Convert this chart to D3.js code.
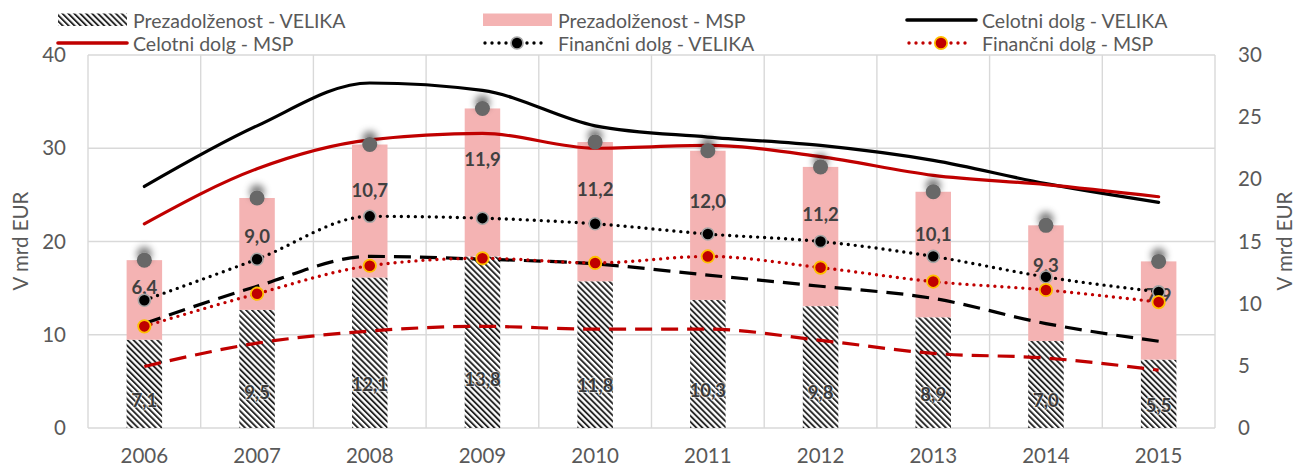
<!DOCTYPE html>
<html>
<head>
<meta charset="utf-8">
<script src="https://cdn.jsdelivr.net/npm/d3@7/dist/d3.min.js"></script>
<style>
  html, body { margin: 0; padding: 0; background: #fff; }
  svg { display: block; font-family: Lato, "Open Sans", sans-serif; }
</style>
</head>
<body>
<svg id="chart" width="1297" height="467"></svg>
<script>
// Years on the category axis
const years = ["2006","2007","2008","2009","2010","2011","2012","2013","2014","2015"];

// Over-indebtedness (right axis, stacked bars), bn EUR
const prezadolzenostVelika = [7.1, 9.5, 12.1, 13.8, 11.8, 10.3, 9.8, 8.9, 7.0, 5.5];
const prezadolzenostMsp    = [6.4, 9.0, 10.7, 11.9, 11.2, 12.0, 11.2, 10.1, 9.3, 7.9];

// Debt series (left axis), bn EUR
const celotniDolgVelika  = [25.9, 32.4, 37.0, 36.2, 32.4, 31.2, 30.3, 28.7, 26.2, 24.2];
const celotniDolgMsp     = [21.9, 27.8, 30.9, 31.6, 30.0, 30.3, 29.1, 27.1, 26.1, 24.8];
const financniDolgVelika = [13.7, 18.1, 22.7, 22.5, 21.9, 20.8, 20.0, 18.4, 16.2, 14.6];
const financniDolgMsp    = [10.9, 14.4, 17.4, 18.2, 17.7, 18.4, 17.2, 15.7, 14.8, 13.5];
const dolgDashedVelika   = [11.2, 15.2, 18.4, 18.1, 17.6, 16.4, 15.2, 13.9, 11.2, 9.3];
const dolgDashedMsp      = [6.6, 9.1, 10.4, 10.9, 10.6, 10.6, 9.4, 8.0, 7.5, 6.2];

// Axis ticks
const leftTicks  = [0, 10, 20, 30, 40];
const rightTicks = [0, 5, 10, 15, 20, 25, 30];
const axisTitle  = "V mrd EUR";

// Legend entries (two rows of three)
const legendLabels = [
  "Prezadolženost - VELIKA", "Prezadolženost - MSP", "Celotni dolg - VELIKA",
  "Celotni dolg - MSP", "Finančni dolg - VELIKA", "Finančni dolg - MSP"
];

const totals = prezadolzenostVelika.map((v, i) => +(v + prezadolzenostMsp[i]).toFixed(1));

const svg = d3.select("#chart");
const W = 1297, H = 467;
const plot = { left: 88, right: 1215, top: 55, bottom: 428 };

const RED = "#C00000", PINK = "#F4B3B3", GRID = "#D9D9D9", TXT = "#595959", LBL = "#404040";

svg.append("rect").attr("width", W).attr("height", H).attr("fill", "#fff");

const defs = svg.append("defs");
const pat = defs.append("pattern")
  .attr("id", "hatch").attr("patternUnits", "userSpaceOnUse")
  .attr("width", 4.2).attr("height", 4.2)
  .attr("patternTransform", "rotate(-45)");
pat.append("rect").attr("width", 4.2).attr("height", 4.2).attr("fill", "#fff");
pat.append("rect").attr("width", 1.9).attr("height", 4.2).attr("fill", "#262626");

const glow = defs.append("filter").attr("id", "halo")
  .attr("x", "-100%").attr("y", "-150%").attr("width", "300%").attr("height", "300%");
glow.append("feGaussianBlur").attr("in", "SourceAlpha").attr("stdDeviation", 3.5).attr("result", "b");
glow.append("feOffset").attr("in", "b").attr("dy", -6).attr("result", "o");
glow.append("feFlood").attr("flood-color", "#000").attr("flood-opacity", 0.5);
glow.append("feComposite").attr("in2", "o").attr("operator", "in").attr("result", "s");
const gm = glow.append("feMerge");
gm.append("feMergeNode").attr("in", "s");
gm.append("feMergeNode").attr("in", "SourceGraphic");

const x = d3.scaleBand().domain(years).range([plot.left, plot.right]).padding(0);
const yL = d3.scaleLinear().domain([0, 40]).range([plot.bottom, plot.top]);
const yR = d3.scaleLinear().domain([0, 30]).range([plot.bottom, plot.top]);
const cx = d => x(d) + x.bandwidth() / 2;
const barW = x.bandwidth() * 0.315;

// Grid
const grid = svg.append("g").attr("stroke", GRID).attr("stroke-width", 1.4);
grid.selectAll("line.h").data(leftTicks).join("line")
  .attr("x1", plot.left).attr("x2", plot.right)
  .attr("y1", d => yL(d)).attr("y2", d => yL(d));
const bounds = years.map(d => x(d)).concat([plot.right]);
grid.selectAll("line.v").data(bounds).join("line")
  .attr("x1", d => d).attr("x2", d => d)
  .attr("y1", plot.top).attr("y2", plot.bottom);

// Axes (text only)
const axL = svg.append("g").attr("transform", `translate(${plot.left - 22},0)`)
  .call(d3.axisLeft(yL).tickValues(leftTicks).tickSize(0).tickPadding(0));
const axR = svg.append("g").attr("transform", `translate(${plot.right + 23},0)`)
  .call(d3.axisRight(yR).tickValues(rightTicks).tickSize(0).tickPadding(0));
const axB = svg.append("g").attr("transform", `translate(0,${plot.bottom})`)
  .call(d3.axisBottom(x).tickSize(0).tickPadding(0));
[axL, axR, axB].forEach(a => {
  a.select(".domain").remove();
  a.selectAll("text").attr("fill", TXT).style("font-size", "20.5px").style("font-family", "Lato");
});
axB.selectAll("text").attr("dy", null).attr("y", 35).attr("dominant-baseline", "alphabetic");

svg.append("text").attr("transform", "translate(28,241) rotate(-90)")
  .attr("text-anchor", "middle").attr("fill", TXT).style("font-size", "20.5px").text(axisTitle);
svg.append("text").attr("transform", "translate(1292,241) rotate(-90)")
  .attr("text-anchor", "middle").attr("fill", TXT).style("font-size", "20.5px").text(axisTitle);

// Stacked bars
svg.append("g").selectAll("rect").data(years).join("rect")
  .attr("x", d => cx(d) - barW / 2).attr("width", barW)
  .attr("y", (d, i) => yR(prezadolzenostVelika[i]))
  .attr("height", (d, i) => yR(0) - yR(prezadolzenostVelika[i]))
  .attr("fill", "url(#hatch)");
svg.append("g").selectAll("rect").data(years).join("rect")
  .attr("x", d => cx(d) - barW / 2).attr("width", barW)
  .attr("y", (d, i) => yR(totals[i]))
  .attr("height", (d, i) => yR(prezadolzenostVelika[i]) - yR(totals[i]))
  .attr("fill", PINK);

// Bar value labels
const fmt = v => v.toFixed(1).replace(".", ",");
const lblStyle = s => s.attr("text-anchor", "middle").attr("dominant-baseline", "central")
  .attr("fill", LBL).style("font-size", "18.5px").style("font-weight", "bold");
svg.append("g").selectAll("text").data(years).join("text")
  .attr("x", d => cx(d))
  .attr("y", (d, i) => yR(prezadolzenostVelika[i] * 0.25) - 6)
  .call(lblStyle)
  .attr("fill", "#3a3a3a")
  .attr("stroke", "rgba(255,255,255,0.55)").attr("stroke-width", 2.2)
  .style("paint-order", "stroke")
  .text((d, i) => fmt(prezadolzenostVelika[i]));
svg.append("g").selectAll("text").data(years).join("text")
  .attr("x", d => cx(d))
  .attr("y", (d, i) => yR(totals[i]) + 0.34 * (yR(prezadolzenostVelika[i]) - yR(totals[i])))
  .call(lblStyle).text((d, i) => fmt(prezadolzenostMsp[i]));

// Lines
const curve = d3.curveMonotoneX;
const lineL = d3.line().x((d, i) => cx(years[i])).y(d => yL(d)).curve(curve);
const drawLine = (vals, color, dash, cap) => svg.append("path").datum(vals)
  .attr("d", lineL).attr("fill", "none").attr("stroke", color)
  .attr("stroke-width", dash === "dot" ? 3.4 : 3.2)
  .attr("stroke-dasharray", dash === "dot" ? "0,7" : dash)
  .attr("stroke-linecap", dash === "dot" ? "round" : (cap || "butt"));

drawLine(dolgDashedMsp, RED, "17,9");
drawLine(dolgDashedVelika, "#000", "17,9");
drawLine(celotniDolgVelika, "#000", null, "round");
drawLine(celotniDolgMsp, RED, null, "round");
drawLine(financniDolgVelika, "#000", "dot");
drawLine(financniDolgMsp, RED, "dot");

// Totals markers
svg.append("g").selectAll("circle").data(totals).join("circle")
  .attr("cx", (d, i) => cx(years[i])).attr("cy", d => yR(d)).attr("r", 7.5)
  .attr("fill", "#676767").attr("filter", "url(#halo)");

// Series markers
svg.append("g").selectAll("circle").data(financniDolgVelika).join("circle")
  .attr("cx", (d, i) => cx(years[i])).attr("cy", d => yL(d)).attr("r", 6)
  .attr("fill", "#000").attr("stroke", "#A6A6A6").attr("stroke-width", 1.6);
svg.append("g").selectAll("circle").data(financniDolgMsp).join("circle")
  .attr("cx", (d, i) => cx(years[i])).attr("cy", d => yL(d)).attr("r", 6.2)
  .attr("fill", RED).attr("stroke", "#FFC000").attr("stroke-width", 1.8);

// Legend
const cols = [58, 483, 907], rows = [20, 43], symW = 69;
const leg = svg.append("g");
legendLabels.forEach((t, k) => {
  const c = k % 3, r = Math.floor(k / 3);
  const x0 = cols[c], yc = rows[r];
  const g = leg.append("g");
  if (k === 0 || k === 1) {
    g.append("rect").attr("x", x0).attr("y", yc - 6.5).attr("width", symW).attr("height", 12.5)
      .attr("fill", k === 0 ? "url(#hatch)" : PINK);
  } else {
    const color = (k === 2 || k === 4) ? "#000" : RED;
    const dotted = k >= 4;
    g.append("line").attr("x1", x0 + (dotted ? 2 : 0)).attr("x2", x0 + symW - (dotted ? 6 : 0))
      .attr("y1", yc).attr("y2", yc).attr("stroke", color)
      .attr("stroke-width", dotted ? 3.4 : 3.6)
      .attr("stroke-linecap", "round")
      .attr("stroke-dasharray", dotted ? "0,7" : null);
    if (dotted) {
      g.append("circle").attr("cx", x0 + 34).attr("cy", yc).attr("r", k === 4 ? 6 : 6.2)
        .attr("fill", k === 4 ? "#000" : RED)
        .attr("stroke", k === 4 ? "#A6A6A6" : "#FFC000").attr("stroke-width", 1.7);
    }
  }
  g.append("text").attr("x", x0 + symW + 6).attr("y", yc).attr("dominant-baseline", "central")
    .attr("fill", TXT).style("font-size", "19.5px").text(t);
});
</script>
</body>
</html>
